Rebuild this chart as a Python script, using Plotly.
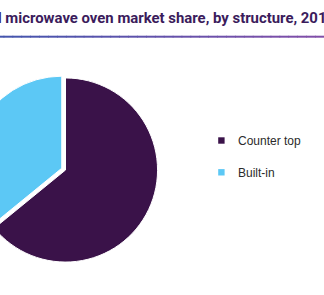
import plotly.graph_objects as go

# Data
labels = ["Counter top", "Built-in"]
values = [64.1, 35.9]
colors = ["#3a1249", "#5cc8f5"]
title_text = "Global microwave oven market share, by structure, 2019 (%)"

W, H = 356, 295
SHIFT = 32  # left part of the frame hidden outside the 324px viewport


def px(x_view):
    return (x_view + SHIFT) / W


def py(y_top):
    return 1 - y_top / H


fig = go.Figure()
fig.add_trace(go.Pie(
    labels=labels,
    values=values,
    marker=dict(colors=colors, line=dict(color="white", width=1)),
    sort=False,
    direction="clockwise",
    rotation=0,
    pull=[0, 0.045],
    textinfo="none",
    hoverinfo="label+percent",
    showlegend=False,
    domain=dict(x=[0, 195 / W], y=[py(266.2), py(73.8)]),
))

# Title underline (gradient approximated by short segments)
n = 40
c0 = (62, 86, 174)
c1 = (130, 78, 168)
for i in range(n):
    t = (i + 0.5) / n
    col = tuple(round(c0[k] + (c1[k] - c0[k]) * t) for k in range(3))
    fig.add_shape(type="line", xref="paper", yref="paper",
                  x0=i / n, x1=(i + 1) / n + 0.002, y0=py(36.7), y1=py(36.7),
                  line=dict(color="rgb(%d,%d,%d)" % col, width=2))

# Legend drawn as squares + text
leg_y = [140.5, 172.3]
for lab, col, yc in zip(labels, colors, leg_y):
    fig.add_shape(type="rect", xref="paper", yref="paper",
                  x0=px(218.2), x1=px(224.6), y0=py(yc + 3.2), y1=py(yc - 3.2),
                  fillcolor=col, line=dict(width=0))
    fig.add_annotation(text=lab, xref="paper", yref="paper",
                       x=px(235.5), y=py(yc + 0.5), xanchor="left", yanchor="middle",
                       showarrow=False,
                       font=dict(family="Liberation Sans, Arial, sans-serif", size=12, color="#2b2b2b"))

fig.update_layout(
    width=W, height=H,
    margin=dict(l=0, r=0, t=0, b=0),
    paper_bgcolor="white",
    plot_bgcolor="white",
    title=dict(text="<b>" + title_text + "</b>",
               x=(159.5 + SHIFT) / W, xanchor="center", xref="container",
               y=1 - 17.5 / H, yanchor="middle", yref="container",
               font=dict(family="Roboto, Liberation Sans, sans-serif",
                         size=14.9, color="#3b1c5c")),
)

fig.write_html("out.html",
               post_script="document.getElementById('{plot_id}').style.marginLeft='-%dpx';" % SHIFT)
